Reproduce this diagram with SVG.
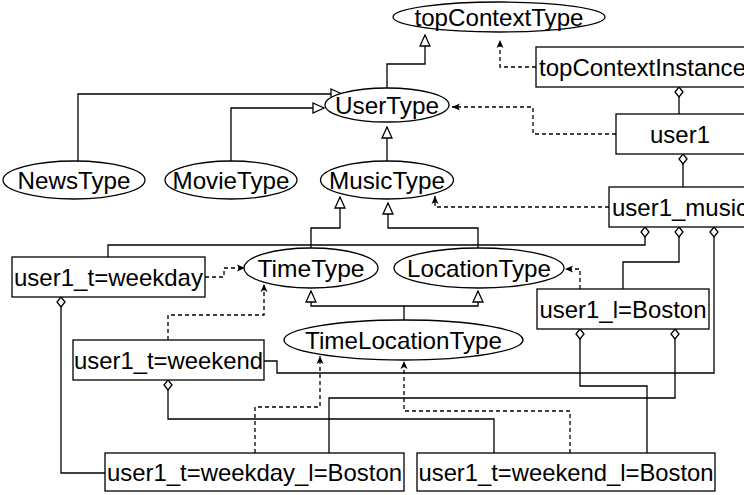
<svg xmlns="http://www.w3.org/2000/svg" width="744" height="495" viewBox="0 0 744 495">
<style>
.n { fill: #fff; stroke: #000; stroke-width: 1.3; }
.t { font-family: "Liberation Sans", Arial, Helvetica, sans-serif; font-size: 24px; fill: #000; text-anchor: middle; }
.s { text-anchor: start; }
.c { fill: none; stroke: #000; stroke-width: 1.3; }
.d { stroke-dasharray: 4 3; }
.g { marker-end: url(#tri); }
.i { marker-end: url(#arr); }
.a { marker-start: url(#dia); }
</style>
<defs>
<marker id="tri" markerUnits="userSpaceOnUse" markerWidth="13" markerHeight="12" refX="11" refY="5" orient="auto" overflow="visible">
<path d="M0,0 L11,5 L0,10 Z" fill="#fff" stroke="#000" stroke-width="1.3" stroke-dasharray="none"/>
</marker>
<marker id="arr" markerUnits="userSpaceOnUse" markerWidth="10" markerHeight="8" refX="8" refY="3.5" orient="auto" overflow="visible">
<path d="M0,0 L8,3.5 L0,7 L2,3.5 Z" fill="#000" stroke="none"/>
</marker>
<marker id="dia" markerUnits="userSpaceOnUse" markerWidth="12" markerHeight="10" refX="0" refY="4" orient="auto" overflow="visible">
<path d="M0,4 L5,0 L10,4 L5,8 Z" fill="#fff" stroke="#000" stroke-width="1.3" stroke-dasharray="none"/>
</marker>
</defs>
<rect width="744" height="495" fill="#fff"/>
<g id="connectors">
<path class="c g" d="M387,88 V64 H425 V35"/>
<path class="c g" d="M78,161 V94 H342"/>
<path class="c g" d="M231,161 V108 H324"/>
<path class="c g" d="M387,161 V127"/>
<path class="c g" d="M311,248 V228 H340 V197"/>
<path class="c g" d="M478,248 V228 H388 V203"/>
<path class="c g" d="M404,320 V306 H311 V291"/>
<path class="c g" d="M404,306 H478 V291"/>
<path class="c d i" d="M536,67 H500 V40"/>
<path class="c d i" d="M616,134 H533 V107 H452"/>
<path class="c d i" d="M609,207 H435 V196"/>
<path class="c d i" d="M205,277 H224 V268 H245"/>
<path class="c d i" d="M168,340 V315 H264 V284"/>
<path class="c d i" d="M580,289 V269 H565"/>
<path class="c d i" d="M255,453 V407 H320 V356"/>
<path class="c d i" d="M570,453 V411 H404 V361"/>
<path class="c a" d="M679,87 V114"/>
<path class="c a" d="M683,154 V187"/>
<path class="c a" d="M645,227 V245 H108 V257"/>
<path class="c a" d="M679,227 V262 H623 V289"/>
<path class="c a" d="M714,227 V373 H277 V361 H264"/>
<path class="c a" d="M61,297 V473 H105"/>
<path class="c a" d="M168,380 V419 H494 V453"/>
<path class="c a" d="M580,329 V386 H647 V453"/>
<path class="c a" d="M675,329 V398 H329 V453"/>
</g>
<g id="topContextType"><ellipse class="n" cx="499" cy="17" rx="106" ry="15"/><text class="t" x="499" y="25.5" textLength="169" lengthAdjust="spacingAndGlyphs">topContextType</text></g>
<g id="topContextInstance"><rect class="n" x="536" y="47" width="215" height="40"/><text class="t s" x="539" y="75.5" textLength="207" lengthAdjust="spacingAndGlyphs">topContextInstance</text></g>
<g id="UserType"><ellipse class="n" cx="387" cy="105" rx="62" ry="17"/><text class="t" x="387" y="113.5" textLength="104" lengthAdjust="spacingAndGlyphs">UserType</text></g>
<g id="NewsType"><ellipse class="n" cx="74" cy="180" rx="71" ry="19"/><text class="t" x="74" y="188.5" textLength="113" lengthAdjust="spacingAndGlyphs">NewsType</text></g>
<g id="MovieType"><ellipse class="n" cx="231" cy="180" rx="66" ry="19"/><text class="t" x="231" y="188.5" textLength="117" lengthAdjust="spacingAndGlyphs">MovieType</text></g>
<g id="MusicType"><ellipse class="n" cx="387" cy="180" rx="66.5" ry="19"/><text class="t" x="387" y="188.5" textLength="116" lengthAdjust="spacingAndGlyphs">MusicType</text></g>
<g id="user1"><rect class="n" x="616" y="114" width="135" height="40"/><text class="t" x="680" y="142.5" textLength="60" lengthAdjust="spacingAndGlyphs">user1</text></g>
<g id="user1_music"><rect class="n" x="609" y="187" width="145" height="40"/><text class="t s" x="612" y="215.5" textLength="136" lengthAdjust="spacingAndGlyphs">user1_music</text></g>
<g id="TimeType"><ellipse class="n" cx="311" cy="268" rx="67" ry="20"/><text class="t" x="311" y="276.5" textLength="107" lengthAdjust="spacingAndGlyphs">TimeType</text></g>
<g id="LocationType"><ellipse class="n" cx="479" cy="268" rx="85" ry="20"/><text class="t" x="479" y="276.5" textLength="144" lengthAdjust="spacingAndGlyphs">LocationType</text></g>
<g id="TimeLocationType"><ellipse class="n" cx="403.5" cy="340" rx="119.5" ry="20"/><text class="t" x="403.5" y="348.5" textLength="197" lengthAdjust="spacingAndGlyphs">TimeLocationType</text></g>
<g id="user1_t_weekday"><rect class="n" x="12" y="257" width="193" height="40"/><text class="t" x="108.5" y="285.5" textLength="189" lengthAdjust="spacingAndGlyphs">user1_t=weekday</text></g>
<g id="user1_l_Boston"><rect class="n" x="537" y="289" width="172" height="40"/><text class="t" x="623" y="317.5" textLength="167" lengthAdjust="spacingAndGlyphs">user1_l=Boston</text></g>
<g id="user1_t_weekend"><rect class="n" x="73" y="340" width="191" height="40"/><text class="t" x="168.5" y="368.5" textLength="189" lengthAdjust="spacingAndGlyphs">user1_t=weekend</text></g>
<g id="user1_t_weekday_l_Boston"><rect class="n" x="105" y="453" width="299" height="38"/><text class="t" x="254.5" y="480.5" textLength="295" lengthAdjust="spacingAndGlyphs">user1_t=weekday_l=Boston</text></g>
<g id="user1_t_weekend_l_Boston"><rect class="n" x="417" y="453" width="298" height="38"/><text class="t" x="566" y="480.5" textLength="295" lengthAdjust="spacingAndGlyphs">user1_t=weekend_l=Boston</text></g>
</svg>
